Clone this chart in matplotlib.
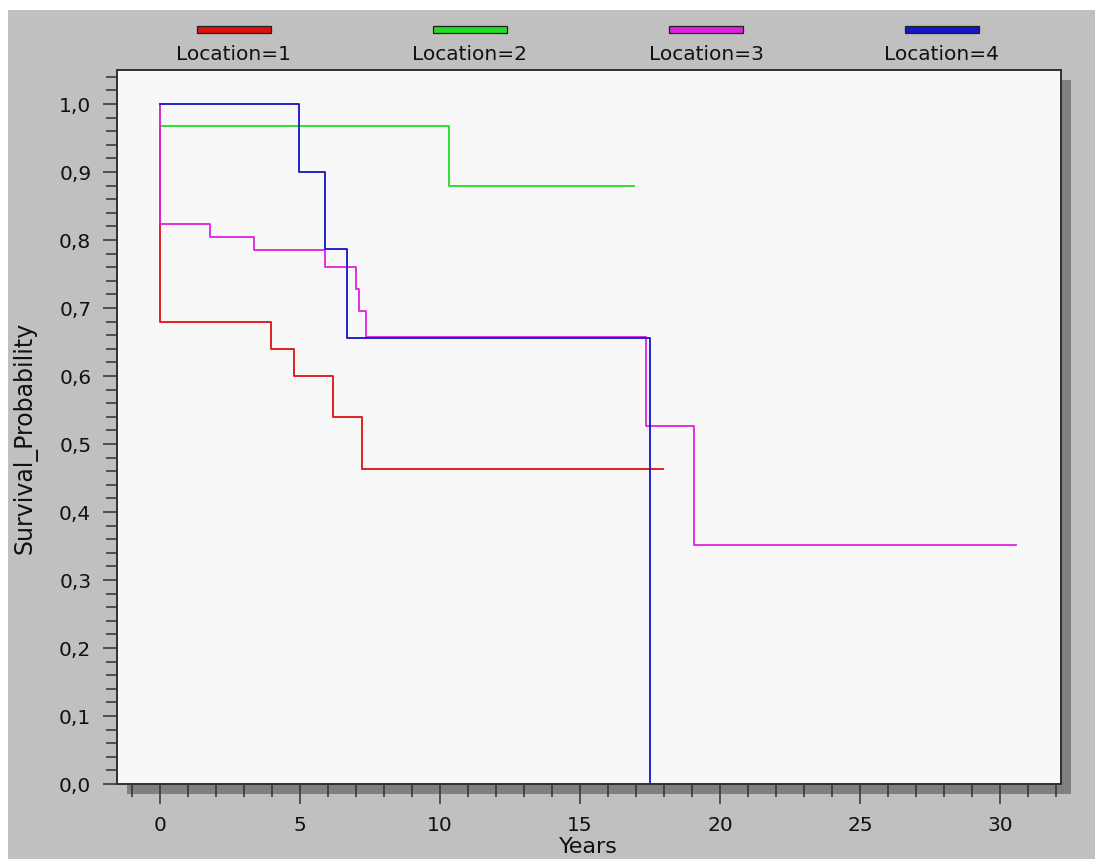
import matplotlib
matplotlib.use("Agg")
import matplotlib.pyplot as plt
import numpy as np
from matplotlib.patches import Rectangle

# Kaplan-Meier step data (years, survival probability)
loc1_t = [0, 0, 3.98, 4.80, 6.20, 7.21, 17.98]
loc1_s = [1.0, 0.68, 0.64, 0.60, 0.54, 0.463, 0.463]

loc2_t = [0, 0, 10.31, 16.93]
loc2_s = [1.0, 0.967, 0.879, 0.879]

loc3_t = [0, 0, 1.79, 3.38, 5.89, 7.02, 7.12, 7.36, 17.35, 19.08, 30.57]
loc3_s = [1.0, 0.824, 0.804, 0.785, 0.761, 0.728, 0.696, 0.657, 0.526, 0.351, 0.351]

loc4_t = [0, 4.97, 5.89, 6.70, 17.50]
loc4_s = [1.0, 0.90, 0.7875, 0.656, 0.0]

labels = ["Location=1", "Location=2", "Location=3", "Location=4"]
colors = ["#dd1111", "#22dd22", "#e020e0", "#1414c8"]

x_major = [0, 5, 10, 15, 20, 25, 30]
y_major = [0.0, 0.1, 0.2, 0.3, 0.4, 0.5, 0.6, 0.7, 0.8, 0.9, 1.0]
y_labels = ["0,0", "0,1", "0,2", "0,3", "0,4", "0,5", "0,6", "0,7", "0,8", "0,9", "1,0"]

W, H = 1095, 859


def fx(px):
    return px / W


def fy(py):
    return 1 - py / H


fig = plt.figure(figsize=(W / 100, H / 100), dpi=100, facecolor="white")

# grey panel and drop shadow behind the plot box
fig.add_artist(Rectangle((fx(8), 0), 1 - fx(8), fy(10), transform=fig.transFigure,
                         facecolor="#c0c0c0", edgecolor="none", zorder=-2))
fig.add_artist(Rectangle((fx(127), fy(794)), fx(1071 - 127), (794 - 80) / H,
                         transform=fig.transFigure, facecolor="#808080",
                         edgecolor="none", zorder=-1))

ax = fig.add_axes([fx(117), fy(784), fx(1061 - 117), (784 - 70) / H])
ax.set_facecolor("#f8f8f8")

series = [(loc1_t, loc1_s), (loc2_t, loc2_s), (loc3_t, loc3_s), (loc4_t, loc4_s)]
for (t, s), c in zip(series, colors):
    ax.step(t, s, where="post", color=c, lw=1.3)

ax.set_xlim(-1.53, 32.18)
ax.set_ylim(0, 1.05)

ax.set_xticks(x_major)
ax.set_xticks(np.arange(-1, 33, 1), minor=True)
ax.set_yticks(y_major)
ax.set_yticklabels(y_labels)
ax.set_yticks(np.arange(0, 1.05, 0.02), minor=True)

for side in ["top", "right", "bottom", "left"]:
    ax.spines[side].set_color("#303030")
    ax.spines[side].set_linewidth(1.4)

ax.tick_params(axis="x", which="major", direction="out", length=14.4, width=1.1,
               color="#303030", pad=8.5, labelsize=14.5, labelcolor="#111111")
ax.tick_params(axis="x", which="minor", direction="out", length=9.4, width=1.1,
               color="#303030")
ax.tick_params(axis="y", which="major", direction="out", length=10, width=1.1,
               color="#303030", pad=8.5, labelsize=14.5, labelcolor="#111111")
ax.tick_params(axis="y", which="minor", direction="out", length=8, width=1.1,
               color="#303030")

ax.set_xlabel("Years", fontsize=16, color="#111111")
ax.xaxis.set_label_coords(fx(588), fy(837), transform=fig.transFigure)
ax.set_ylabel("Survival_Probability", fontsize=17, color="#111111")
ax.yaxis.set_label_coords(fx(38), fy(438), transform=fig.transFigure)

# legend across the top: swatch above each label
for i, (lab, c) in enumerate(zip(labels, colors)):
    cx = 234 + 236 * i
    fig.add_artist(Rectangle((fx(cx - 37), fy(32.5)), fx(74), 6.5 / H,
                             transform=fig.transFigure, facecolor=c,
                             edgecolor="#202020", lw=0.9))
    fig.text(fx(cx), fy(55), lab, ha="center", va="center", fontsize=14.5,
             color="#111111")

fig.savefig("out.png", dpi=100, facecolor=fig.get_facecolor())
